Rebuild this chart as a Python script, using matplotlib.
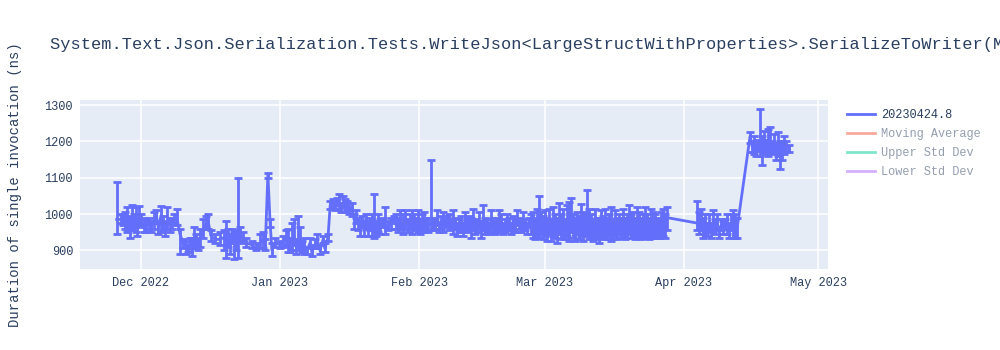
import numpy as np
import pandas as pd
import matplotlib
matplotlib.use("Agg")
import matplotlib.pyplot as plt
import matplotlib.dates as mdates
from matplotlib.lines import Line2D

# run dates given as days after 2022-12-01
run_days = [
    # Nov 25 - Dec 9
    -5.4, -4.5, -4.1, -3.6, -3.2, -2.8, -2.4, -2.0, -1.6, -1.2,
    -0.8, -0.4, 0.1, 0.6, 1.1, 1.7, 2.3, 2.9, 3.4, 3.9,
    4.4, 4.9, 5.4, 5.9, 6.4, 6.9, 7.4, 8.0,
    # Dec 9 - Jan 11
    8.7, 9.4, 10.0, 10.5, 10.9, 11.4, 11.8, 12.3, 12.7, 13.2,
    13.8, 14.5, 14.9, 15.6, 16.5, 17.6, 18.5, 19.0, 19.4, 19.9,
    20.3, 20.7, 21.2, 21.6, 22.1, 22.8, 23.4, 24.8, 25.7, 26.5,
    27.2, 27.7, 28.3, 28.8, 29.2, 29.9, 31.0, 31.7, 32.3, 32.8,
    33.2, 33.7, 34.1, 34.6, 35.0, 35.5, 35.9, 36.4, 37.0, 37.7,
    38.1, 38.8, 39.3, 39.9, 40.6, 41.0, 41.7,
    # Jan 12 - Feb 3
    42.2, 42.8, 43.3, 43.7, 44.2, 44.6, 45.1, 45.5, 46.0, 46.4,
    47.1, 47.5, 48.0, 48.4, 48.9, 49.3, 49.7, 50.2, 50.6, 51.1,
    51.5, 52.0, 52.4, 52.9, 53.3, 54.0, 54.4, 55.1, 55.8, 56.4,
    56.9, 57.3, 57.8, 58.4, 58.9, 59.6, 60.0, 60.5, 60.9, 61.3,
    61.8, 62.2, 62.7, 63.1, 63.6, 64.0,
    # Feb 3 - Mar 28
    64.7, 65.1, 65.6, 66.0, 66.5, 66.9, 67.4, 67.8, 68.3, 68.7,
    69.2, 69.6, 70.1, 70.5, 70.9, 71.4, 71.8, 72.3, 72.7, 73.2,
    73.6, 74.1, 74.5, 75.0, 75.4, 75.9, 76.3, 76.7, 77.2, 77.6,
    78.1, 78.5, 79.0, 79.4, 79.9, 80.3, 80.8, 81.2, 81.6, 82.1,
    82.5, 83.0, 83.4, 83.9, 84.3, 84.8, 85.2, 85.7, 86.1, 86.6,
    87.0, 87.4, 87.9, 88.3, 88.8, 89.2, 89.7, 90.1, 90.6, 91.0,
    91.5, 91.9, 92.3, 92.8, 93.2, 93.7, 94.1, 94.6, 95.0, 95.5,
    95.9, 96.4, 96.8, 97.2, 97.7, 98.1, 98.6, 99.0, 99.5, 99.9,
    100.4, 100.8, 101.3, 101.7, 102.2, 102.6, 103.0, 103.5, 103.9, 104.4,
    104.8, 105.3, 105.7, 106.2, 106.6, 107.1, 107.5, 107.9, 108.4, 108.8,
    109.3, 109.7, 110.2, 110.6, 111.1, 111.5, 112.0, 112.4, 112.9, 113.3,
    113.7, 114.2, 114.6, 115.1, 115.5, 116.0, 116.4, 116.9, 117.3,
    # Apr 4 - Apr 13
    124.0, 124.4, 124.9, 125.3, 125.8, 126.2, 126.7, 127.1, 127.6, 128.0,
    128.5, 128.9, 129.4, 129.8, 130.3, 130.7, 131.2, 131.6, 132.0, 132.5,
    132.9,
    # Apr 17 - Apr 25
    135.8, 136.3, 136.7, 137.2, 137.6, 138.0, 138.5, 138.9, 139.4, 139.8,
    140.3, 140.7, 141.2, 141.6, 142.1, 142.5, 143.0, 143.4, 143.9, 144.5,
]

duration_ns = [
    985, 985, 990, 975, 980, 970, 965, 990, 975, 985,
    960, 995, 980, 970, 965, 975, 965, 980, 1000, 960,
    990, 975, 960, 980, 970, 975, 985, 990,
    945, 920, 910, 905, 920, 895, 930, 925, 915, 930,
    950, 970, 985, 940, 930, 930, 935, 920, 945, 925,
    940, 920, 930, 940, 945, 930, 920, 915, 905, 920,
    930, 905, 1110, 975, 900, 920, 915, 925, 935, 910,
    915, 925, 940, 910, 925, 935, 905, 915, 900, 920,
    895, 915, 925, 900, 930, 905, 935,
    1025, 1030, 1020, 1035, 1025, 1020, 1030, 1015, 1025, 1010,
    1020, 985, 990, 975, 965, 980, 960, 990, 955, 975,
    960, 985, 960, 975, 960, 980, 970, 965, 975, 985,
    970, 965, 985, 960, 990, 965, 975, 960, 985, 970,
    975, 960, 985, 965, 980, 970,
    975, 965, 975, 990, 965, 980, 960, 975, 985, 965,
    975, 965, 980, 960, 970, 975, 960, 985, 965, 975,
    960, 985, 970, 965, 975, 960, 980, 965, 970, 960,
    985, 970, 960, 975, 965, 980, 960, 970, 985, 975,
    960, 980, 965, 990, 975, 965, 980, 970, 960, 985,
    965, 975, 955, 970, 960, 975, 955, 970, 960, 980,
    950, 975, 965, 955, 980, 960, 975, 955, 970, 960,
    985, 965, 950, 975, 960, 970, 955, 975, 970, 960,
    965, 950, 970, 960, 955, 975, 960, 970, 955, 975,
    965, 955, 970, 960, 975, 960, 970, 955, 965, 975,
    960, 970, 955, 965, 960, 955, 970, 960, 965, 950,
    970, 960, 970, 960, 955, 970, 960, 965, 990,
    975, 960, 985, 950, 975, 960, 970, 955, 980, 965,
    975, 950, 970, 960, 975, 965, 955, 975, 960, 970,
    960,
    1215, 1185, 1200, 1180, 1195, 1175, 1200, 1185, 1190, 1175,
    1195, 1180, 1200, 1170, 1190, 1175, 1185, 1180, 1190, 1180,
]

upper_ns = [
    1088, 1000, 998, 1005, 1020, 995, 985, 1025, 1000, 1020,
    980, 1022, 1000, 990, 985, 990, 980, 1005, 1010, 975,
    1022, 995, 980, 1020, 990, 985, 1000, 1015,
    960, 930, 925, 915, 935, 935, 965, 945, 935, 960,
    985, 995, 1000, 955, 945, 950, 955, 980, 960, 945,
    960, 950, 955, 1098, 965, 950, 935, 925, 920, 945,
    950, 930, 1112, 985, 920, 935, 925, 940, 955, 960,
    935, 975, 985, 930, 995, 965, 925, 935, 910, 935,
    915, 930, 945, 915, 940, 920, 945,
    1035, 1042, 1035, 1045, 1055, 1030, 1050, 1040, 1035, 1030,
    1030, 1000, 1010, 990, 980, 995, 975, 1000, 980, 990,
    1000, 1055, 980, 1000, 985, 990, 1020, 980, 990, 995,
    1000, 990, 1010, 1000, 1010, 985, 1000, 1010, 1000, 990,
    1010, 985, 1000, 1005, 990, 990,
    1150, 985, 990, 1010, 975, 995, 1005, 985, 995, 1000,
    985, 1010, 990, 975, 985, 995, 975, 1005, 985, 995,
    990, 1015, 985, 980, 1005, 980, 1025, 990, 985, 975,
    1010, 990, 980, 990, 1010, 1000, 975, 985, 1000, 990,
    975, 995, 985, 1010, 990, 985, 1005, 985, 975, 990,
    1000, 1005, 990, 1015, 1050, 1005, 995, 1010, 990, 1015,
    985, 1020, 1000, 990, 1030, 1000, 1015, 985, 1025, 1033,
    1045, 1000, 990, 1005, 995, 1028, 1000, 1005, 1066, 1015,
    1000, 985, 1015, 990, 990, 1010, 995, 1015, 990, 1000,
    1020, 985, 1010, 990, 1000, 990, 1015, 990, 1000, 1025,
    1000, 1005, 990, 1020, 1005, 990, 1000, 1020, 1000, 990,
    1015, 1005, 1000, 990, 985, 1005, 1015, 1000, 1020,
    1035, 1005, 1015, 990, 1000, 975, 1000, 975, 1010, 985,
    1000, 965, 985, 980, 985, 1000, 975, 1000, 1010, 1000,
    990,
    1225, 1200, 1215, 1195, 1205, 1290, 1215, 1230, 1205, 1235,
    1240, 1200, 1220, 1195, 1225, 1200, 1200, 1215, 1200, 1190,
]

lower_ns = [
    945, 975, 970, 960, 950, 955, 935, 955, 960, 950,
    940, 970, 965, 950, 950, 960, 950, 960, 975, 945,
    950, 955, 940, 960, 950, 960, 975, 970,
    890, 905, 890, 895, 905, 885, 910, 905, 900, 910,
    935, 960, 960, 925, 920, 915, 900, 880, 910, 890,
    920, 875, 900, 878, 925, 920, 910, 905, 900, 905,
    905, 900, 1100, 965, 885, 910, 905, 910, 915, 895,
    895, 900, 915, 890, 900, 905, 895, 890, 890, 905,
    885, 905, 905, 890, 920, 895, 925,
    1015, 1020, 1010, 1025, 1015, 1005, 1020, 1005, 1010, 1000,
    995, 960, 975, 955, 940, 965, 940, 960, 940, 955,
    940, 935, 940, 950, 945, 965, 945, 955, 960, 975,
    960, 950, 960, 945, 960, 950, 960, 945, 960, 955,
    950, 945, 955, 950, 955, 950,
    955, 955, 960, 970, 950, 960, 950, 965, 970, 955,
    960, 945, 960, 940, 950, 950, 940, 955, 950, 955,
    935, 955, 945, 950, 960, 935, 955, 945, 950, 945,
    960, 950, 945, 955, 950, 955, 945, 950, 960, 955,
    945, 955, 950, 970, 960, 950, 960, 955, 945, 965,
    945, 935, 930, 940, 935, 945, 930, 940, 925, 945,
    925, 940, 935, 920, 945, 930, 935, 930, 940, 925,
    950, 935, 925, 945, 930, 940, 925, 945, 940, 930,
    935, 925, 940, 930, 920, 940, 930, 940, 930, 940,
    925, 930, 940, 930, 945, 935, 940, 930, 935, 945,
    935, 940, 930, 940, 935, 930, 940, 935, 935, 930,
    940, 935, 940, 935, 935, 940, 940, 935, 955,
    955, 945, 955, 935, 945, 940, 950, 935, 950, 945,
    955, 935, 955, 945, 960, 945, 935, 955, 935, 935,
    935,
    1195, 1170, 1165, 1160, 1175, 1160, 1135, 1165, 1165, 1160,
    1170, 1165, 1170, 1150, 1160, 1125, 1150, 1165, 1175, 1170,
]

assert len(run_days) == len(duration_ns) == len(upper_ns) == len(lower_ns)

title = ("System.Text.Json.Serialization.Tests.WriteJson<LargeStructWithProperties>"
         ".SerializeToWriter(Mode: SourceGen)")
legend_labels = ["20230424.8", "Moving Average", "Upper Std Dev", "Lower Std Dev"]
legend_colors = ["#636EFA", "#EF553B", "#00CC96", "#AB63FA"]
y_ticks = [900, 1000, 1100, 1200, 1300]

FONT = "Liberation Mono"
TEXT = "#2a3f5f"

dates = pd.Timestamp("2022-12-01") + pd.to_timedelta(run_days, unit="D")
mean = np.array(duration_ns, dtype=float)
yerr = [mean - np.array(lower_ns), np.array(upper_ns) - mean]

fig = plt.figure(figsize=(10, 3.5), dpi=100)
ax = fig.add_axes([0.08, 0.231, 0.748, 0.483])
ax.set_facecolor("#E5ECF6")

ax.errorbar(dates, mean, yerr=yerr, color="#636EFA", lw=2, elinewidth=2,
            capsize=3, capthick=2, zorder=3)

ax.set_xlim(pd.Timestamp("2022-11-17 10:00"), pd.Timestamp("2023-05-03 04:00"))
ax.set_ylim(848, 1314)
ax.set_yticks(y_ticks)
ax.xaxis.set_major_locator(mdates.MonthLocator())
ax.xaxis.set_major_formatter(mdates.DateFormatter("%b %Y"))

ax.grid(True, color="white", lw=1.1, zorder=0)
ax.set_axisbelow(True)
for s in ax.spines.values():
    s.set_visible(False)
ax.tick_params(length=0, labelsize=8.6, labelcolor=TEXT)
ax.tick_params(axis="x", pad=6)
ax.tick_params(axis="y", pad=5)
for lbl in ax.get_xticklabels() + ax.get_yticklabels():
    lbl.set_fontfamily(FONT)

ax.set_ylabel("Duration of single invocation (ns)", fontsize=10, color=TEXT,
              fontfamily=FONT)
ax.yaxis.set_label_coords(-0.0775, 0.5)

# the title is wider than the figure and gets cut at the right edge
fig.text(0.05, 1 - 45 / 350, title, fontsize=12.25, color=TEXT, fontfamily=FONT,
         va="center", ha="left")

handles = []
for i, c in enumerate(legend_colors):
    handles.append(Line2D([], [], color=c, lw=2, alpha=1.0 if i == 0 else 0.5))
leg = fig.legend(handles, legend_labels, loc="upper left",
                 bbox_to_anchor=(0.847, 0.688), frameon=False, borderpad=0,
                 borderaxespad=0, handlelength=2.35, handletextpad=0.5,
                 labelspacing=0.58, prop={"family": FONT, "size": 8.6})
for i, t in enumerate(leg.get_texts()):
    t.set_color(TEXT)
    if i > 0:
        t.set_alpha(0.5)

fig.savefig("out.png", dpi=100)
